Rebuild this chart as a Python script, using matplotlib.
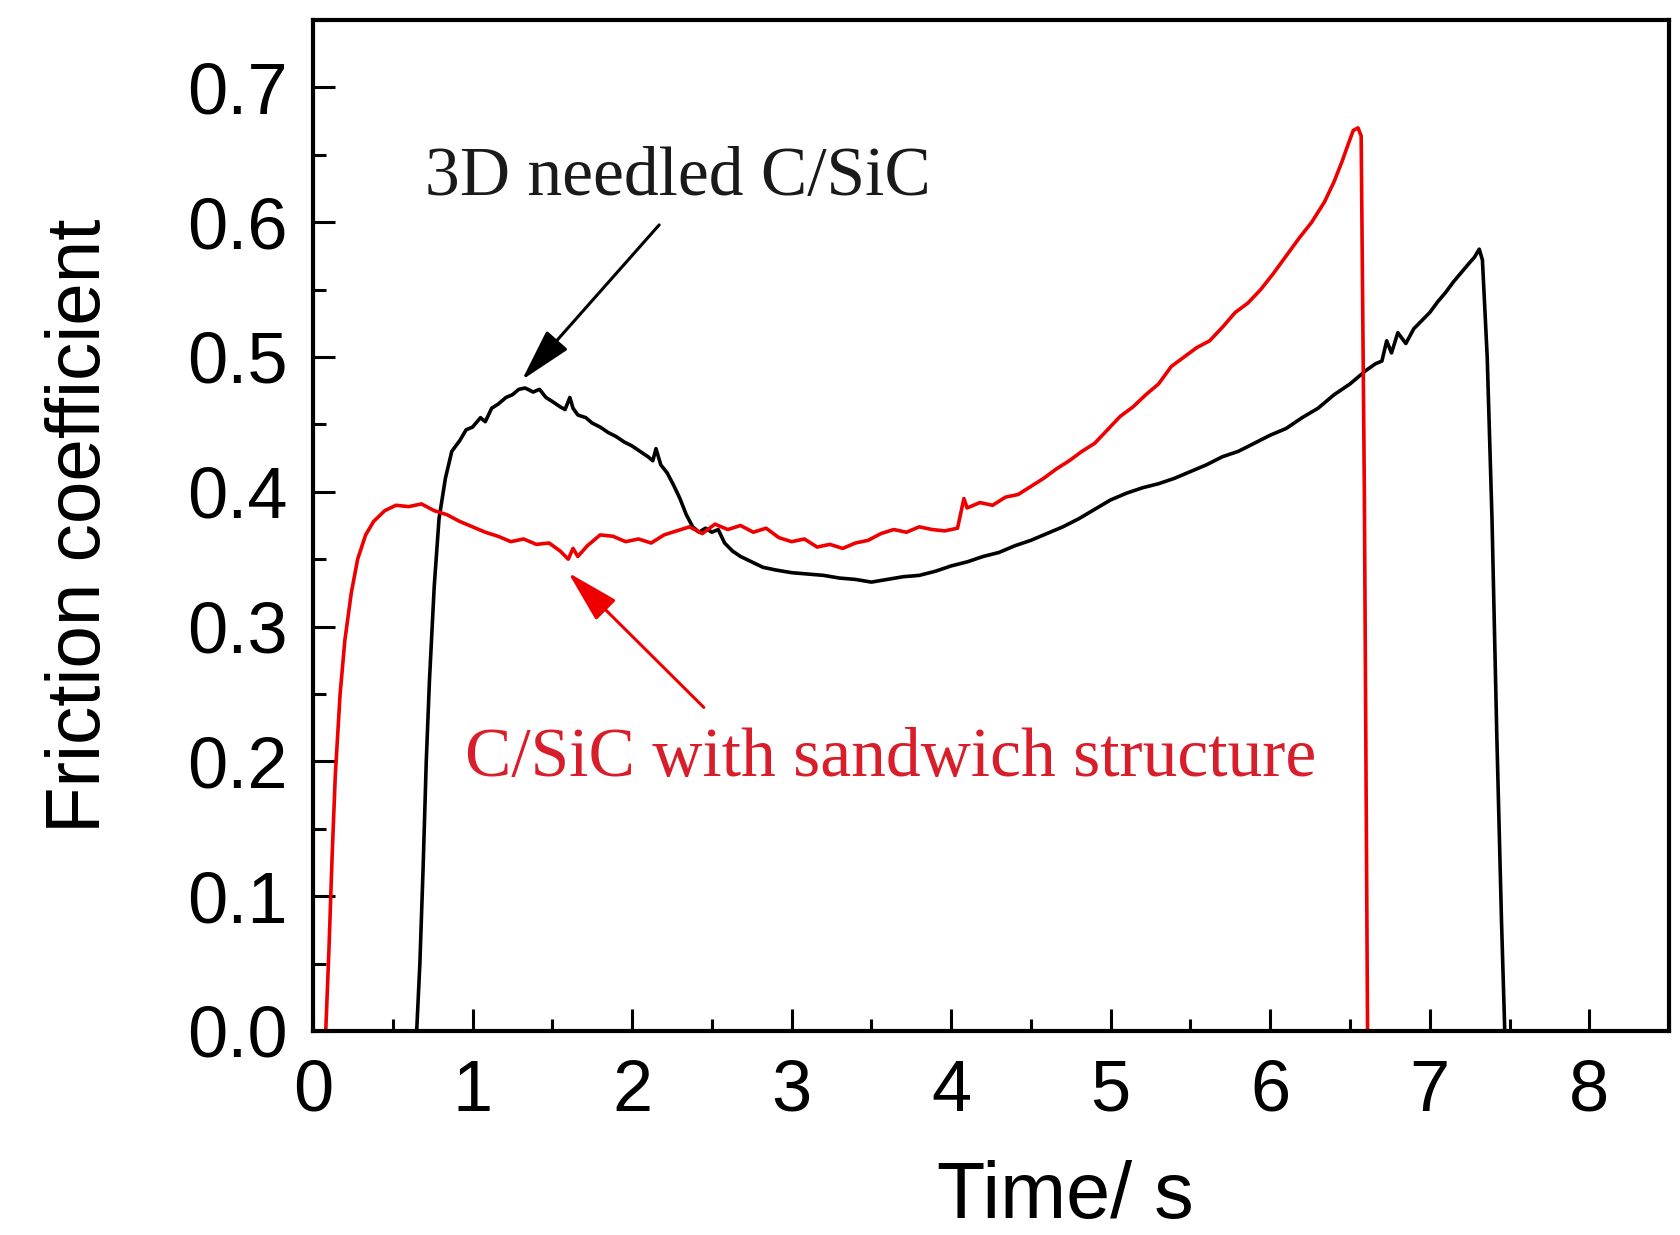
import numpy as np
import matplotlib.pyplot as plt
from matplotlib.ticker import MultipleLocator

plt.rc('font', family='Liberation Sans', size=52)

#%% data
t_needled = [0.65, 0.67, 0.69, 0.71, 0.73, 0.76, 0.79, 0.83, 0.87, 0.92, 0.96, 1.00, 1.05, 1.08,
             1.12, 1.16, 1.21, 1.25, 1.29, 1.33, 1.38, 1.42, 1.46, 1.50, 1.55, 1.58, 1.61, 1.63,
             1.66, 1.71, 1.75, 1.80, 1.85, 1.90, 1.95, 2.00, 2.05, 2.10, 2.13, 2.15, 2.18, 2.22,
             2.26, 2.30, 2.34, 2.38, 2.42, 2.46, 2.50, 2.54, 2.58, 2.63, 2.68, 2.75, 2.82, 2.90,
             3.00, 3.10, 3.20, 3.30, 3.40, 3.50, 3.60, 3.70, 3.80, 3.90, 4.00, 4.10, 4.20, 4.30,
             4.40, 4.50, 4.60, 4.70, 4.80, 4.90, 5.00, 5.10, 5.20, 5.30, 5.40, 5.50, 5.60, 5.70,
             5.80, 5.90, 6.00, 6.10, 6.20, 6.30, 6.40, 6.50, 6.60, 6.66, 6.70, 6.73, 6.76, 6.80,
             6.85, 6.90, 6.95, 7.00, 7.05, 7.10, 7.15, 7.20, 7.25, 7.28, 7.31, 7.33, 7.36, 7.39,
             7.42, 7.45, 7.47]
mu_needled = [0.0, 0.05, 0.12, 0.20, 0.26, 0.33, 0.38, 0.41, 0.43, 0.438, 0.446, 0.448, 0.455, 0.452,
              0.462, 0.465, 0.470, 0.472, 0.476, 0.477, 0.474, 0.476, 0.470, 0.467, 0.463, 0.461, 0.470, 0.462,
              0.457, 0.455, 0.451, 0.448, 0.444, 0.441, 0.437, 0.434, 0.430, 0.426, 0.423, 0.432, 0.420, 0.414,
              0.405, 0.395, 0.383, 0.374, 0.370, 0.373, 0.370, 0.372, 0.362, 0.356, 0.352, 0.348, 0.344, 0.342,
              0.340, 0.339, 0.338, 0.336, 0.335, 0.333, 0.335, 0.337, 0.338, 0.341, 0.345, 0.348, 0.352, 0.355,
              0.360, 0.364, 0.369, 0.374, 0.380, 0.387, 0.394, 0.399, 0.403, 0.406, 0.410, 0.415, 0.420, 0.426,
              0.430, 0.436, 0.442, 0.447, 0.455, 0.462, 0.472, 0.480, 0.490, 0.495, 0.497, 0.512, 0.503, 0.518,
              0.510, 0.521, 0.527, 0.533, 0.541, 0.548, 0.556, 0.563, 0.570, 0.574, 0.580, 0.572, 0.50, 0.38,
              0.22, 0.08, 0.0]

t_sandwich = [0.08, 0.10, 0.12, 0.14, 0.17, 0.20, 0.24, 0.28, 0.33, 0.38, 0.45, 0.52, 0.60, 0.68,
              0.76, 0.84, 0.92, 1.00, 1.08, 1.16, 1.24, 1.32, 1.40, 1.48, 1.55, 1.60, 1.63, 1.66,
              1.72, 1.80, 1.88, 1.96, 2.04, 2.12, 2.20, 2.28, 2.36, 2.44, 2.52, 2.60, 2.68, 2.76,
              2.84, 2.92, 3.00, 3.08, 3.16, 3.24, 3.32, 3.40, 3.48, 3.56, 3.64, 3.72, 3.80, 3.88,
              3.96, 4.04, 4.08, 4.10, 4.18, 4.26, 4.34, 4.42, 4.50, 4.58, 4.66, 4.74, 4.82, 4.90,
              4.98, 5.06, 5.14, 5.22, 5.30, 5.38, 5.46, 5.54, 5.62, 5.70, 5.78, 5.86, 5.94, 6.02,
              6.10, 6.18, 6.26, 6.34, 6.40, 6.45, 6.48, 6.52, 6.55, 6.57, 6.59, 6.61]
mu_sandwich = [0.0, 0.06, 0.13, 0.19, 0.25, 0.29, 0.325, 0.35, 0.368, 0.378, 0.386, 0.390, 0.389, 0.391,
               0.386, 0.383, 0.378, 0.374, 0.370, 0.367, 0.363, 0.365, 0.361, 0.362, 0.356, 0.350, 0.358, 0.352,
               0.360, 0.368, 0.367, 0.363, 0.365, 0.362, 0.368, 0.371, 0.374, 0.369, 0.376, 0.372, 0.375, 0.370,
               0.373, 0.366, 0.363, 0.365, 0.359, 0.361, 0.358, 0.362, 0.364, 0.369, 0.372, 0.370, 0.374, 0.372,
               0.371, 0.373, 0.395, 0.388, 0.392, 0.390, 0.396, 0.398, 0.404, 0.410, 0.417, 0.423, 0.430, 0.436,
               0.446, 0.456, 0.463, 0.472, 0.480, 0.493, 0.500, 0.507, 0.512, 0.522, 0.533, 0.540, 0.550, 0.562,
               0.575, 0.588, 0.600, 0.615, 0.630, 0.645, 0.655, 0.668, 0.670, 0.664, 0.40, 0.0]

#%% plot
fig = plt.figure(figsize=(16.8, 12.35), dpi=100)
ax = fig.add_axes([0.1863, 0.1652, 0.8072, 0.8186])

ax.plot(t_needled, mu_needled, color='k', lw=2.6)
ax.plot(t_sandwich, mu_sandwich, color='#ee0000', lw=2.6)

ax.set_xlim(0, 8.5)
ax.set_ylim(0, 0.75)
ax.xaxis.set_major_locator(MultipleLocator(1))
ax.xaxis.set_minor_locator(MultipleLocator(0.5))
ax.yaxis.set_major_locator(MultipleLocator(0.1))
ax.yaxis.set_minor_locator(MultipleLocator(0.05))
ax.yaxis.set_major_formatter(plt.FormatStrFormatter('%.1f'))
ax.tick_params(which='both', direction='in', width=2.2, top=False, right=False)
ax.tick_params(which='major', length=16)
ax.tick_params(which='minor', length=9)
ax.tick_params(axis='x', pad=20, labelsize=52)
ax.tick_params(axis='y', pad=18, labelsize=52)
for sp in ax.spines.values():
    sp.set_linewidth(3)

ax.set_xlabel('Time/ s', fontsize=57)
ax.xaxis.set_label_coords(0.555, -0.128)
ax.set_ylabel('Friction coefficient', fontsize=55)
ax.yaxis.set_label_coords(-0.145, 0.5)

ax.text(0.70, 0.620, '3D needled C/SiC', family='Liberation Serif', fontsize=50,
        ha='left', va='baseline', color='#1a1a1a')
ax.text(0.955, 0.189, 'C/SiC with sandwich structure', family='Liberation Serif', fontsize=50,
        ha='left', va='baseline', color='#d81e2a')

ax.annotate('', xy=(1.31, 0.483), xytext=(2.17, 0.598),
            arrowprops=dict(arrowstyle='-|>,head_length=1.5,head_width=0.4', color='k', lw=2.2,
                            mutation_scale=22, shrinkA=0, shrinkB=0))
ax.annotate('', xy=(1.60, 0.340), xytext=(2.45, 0.240),
            arrowprops=dict(arrowstyle='-|>,head_length=1.5,head_width=0.4', color='#ee0000', lw=2.2,
                            mutation_scale=22, shrinkA=0, shrinkB=0))

fig.savefig('out.png', dpi=100)
